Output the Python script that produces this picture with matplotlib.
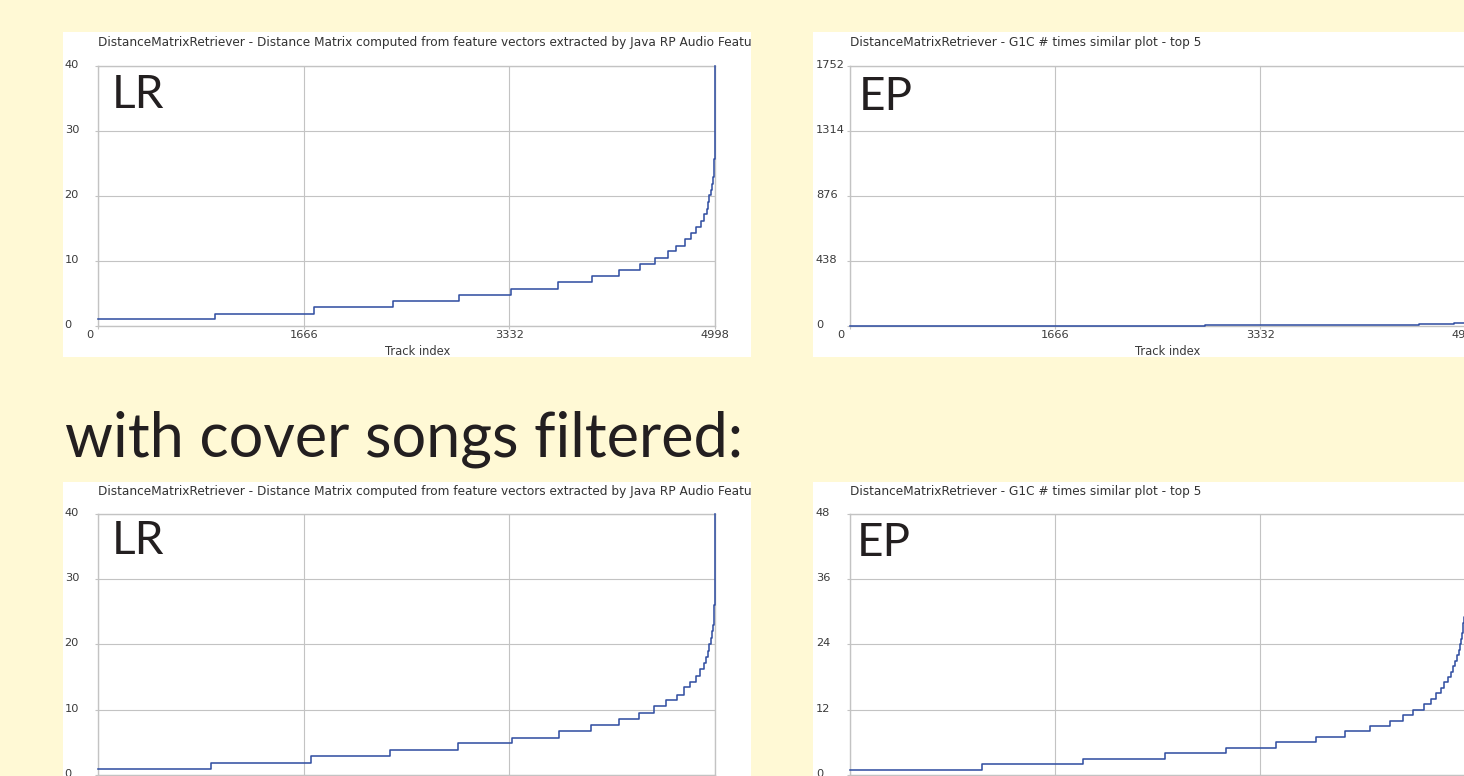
import matplotlib
matplotlib.use("Agg")
import matplotlib.pyplot as plt
from matplotlib.patches import Rectangle
from matplotlib.transforms import ScaledTranslation, Bbox, TransformedBbox

# ---------------------------------------------------------------- data
track_ticks = [0, 1666, 3332, 4998]
track_max = 4998

# LR, all tracks: start index of each level and its value
lr_all_start = [0, 942, 1746, 2387, 2923, 3347, 3727, 4005, 4221, 4389, 4511,
                4614, 4684, 4752, 4803, 4844, 4884, 4911, 4931, 4941, 4952,
                4963, 4974, 4982, 4993, 4996, 4998]
lr_all_value = [0.97, 1.86, 2.86, 3.84, 4.8, 5.68, 6.66, 7.63, 8.5, 9.5, 10.45,
                11.46, 12.33, 13.3, 14.33, 15.25, 16.17, 17.14, 18.0, 19.0,
                20.05, 20.9, 21.85, 22.87, 25.7, 32.7, 40.0]

# EP, all tracks
ep_all_start = [0, 2883, 4617, 4906, 4992, 4998]
ep_all_value = [1, 7, 14, 22, 60, 1752]

# LR, cover songs filtered
lr_flt_start = [0, 912, 1723, 2360, 2914, 3349, 3732, 3996, 4217, 4384, 4503,
                4601, 4688, 4746, 4797, 4847, 4876, 4905, 4928, 4940, 4951,
                4962, 4973, 4982, 4993, 4996, 4998]
lr_flt_value = [0.97, 1.89, 2.86, 3.88, 4.85, 5.71, 6.73, 7.65, 8.57, 9.54,
                10.5, 11.5, 12.3, 13.4, 14.3, 15.2, 16.3, 17.2, 18.1, 19.0,
                20.0, 21.0, 22.0, 23.0, 26.0, 33.0, 40.0]

# EP, cover songs filtered
ep_flt_start = [0, 1077, 1896, 2557, 3058, 3461, 3786, 4020, 4219, 4388, 4490,
                4573, 4661, 4716, 4756, 4797, 4825, 4854, 4881, 4898, 4912,
                4928, 4942, 4952, 4960, 4968, 4975, 4980, 4984, 4990, 4992,
                4994, 4996, 4998]
ep_flt_value = [1, 2, 3, 4, 5, 6, 7, 8, 9, 10, 11, 12, 13, 14, 15, 16, 17, 18,
                19, 20, 21, 22, 23, 24, 25, 26, 27, 28, 29, 31, 34, 38, 43, 48]

lr_yticks = [0, 10, 20, 30, 40]
ep_all_yticks = [0, 438, 876, 1314, 1752]
ep_flt_yticks = [0, 12, 24, 36, 48]

title_lr = ("DistanceMatrixRetriever - Distance Matrix computed from feature "
            "vectors extracted by Java RP Audio Feature Extractor")
title_ep = "DistanceMatrixRetriever - G1C # times similar plot - top 5"
heading = "with cover songs filtered:"

# ---------------------------------------------------------------- style
W, H = 1464, 776
BG = "#FFF9D5"
GRID = "#c3c3c3"
LINE = "#3451a3"
INK = "#231F20"
JAVA_FONT = ["DejaVu Sans"]
SLIDE_FONT = ["Lato", "DejaVu Sans"]

fig = plt.figure(figsize=(W / 100, H / 100), dpi=100)
fig.patch.set_facecolor(BG)


def fx(x):
    return x / W


def fy(y):
    return 1 - y / H


def rect(x0, y0, x1, y1):
    return [x0 / W, 1 - y1 / H, (x1 - x0) / W, (y1 - y0) / H]


def panel(box, ax_box, title, starts, values, ymax, yticks, letter,
          letter_xy, title_y, show_xaxis):
    x0, y0, x1, y1 = box
    fig.add_artist(Rectangle((fx(x0), fy(y1)), fx(x1) - fx(x0), fy(y0) - fy(y1),
                             transform=fig.transFigure, facecolor="white",
                             edgecolor="none", zorder=0))
    clip = TransformedBbox(Bbox([[fx(x0), fy(y1)], [fx(x1), fy(y0)]]),
                           fig.transFigure)

    ax = fig.add_axes(rect(*ax_box))
    ax.set_facecolor("white")
    xs = list(starts) + [track_max]
    ys = list(values) + [values[-1]]
    ax.step(xs, ys, where="post", color=LINE, lw=1.15, zorder=4,
            clip_on=False)
    ax.set_xlim(0, track_max)
    ax.set_ylim(0, ymax)

    ax.set_xticks(track_ticks)
    ax.set_xticklabels([str(t) for t in track_ticks])
    ax.set_yticks(yticks)
    ax.set_yticklabels([str(t) for t in yticks])
    ax.grid(True, color=GRID, lw=0.8, zorder=1)
    ax.set_axisbelow(True)
    for s in ax.spines.values():
        s.set_color(GRID)
        s.set_linewidth(1.0)
    ax.tick_params(axis="both", labelsize=8.2, labelcolor="#3a3a3a",
                   color=GRID, length=2)
    ax.tick_params(axis="y", pad=22.3)
    ax.tick_params(axis="x", pad=1.0, labelbottom=show_xaxis)
    for lab in ax.get_yticklabels():
        lab.set_fontfamily(JAVA_FONT)
        lab.set_horizontalalignment("left")
        lab.set_transform(lab.get_transform() +
                          ScaledTranslation(0, 0.02, fig.dpi_scale_trans))
    if show_xaxis:
        xl = ax.get_xticklabels()
        for lab in xl:
            lab.set_fontfamily(JAVA_FONT)
        xl[0].set_transform(xl[0].get_transform() +
                            ScaledTranslation(-0.09, 0, fig.dpi_scale_trans))
        ax.set_xlabel("Track index", fontsize=8.3, color="#3a3a3a",
                      family=JAVA_FONT)
        ax.xaxis.set_label_coords(0.517, -0.097)
        ax.xaxis.label.set_verticalalignment("center")

    t = fig.text(fx(ax_box[0]), fy(title_y), title, fontsize=8.75,
                 color="#333333", family=JAVA_FONT, ha="left", va="center")
    t.set_clip_box(clip)
    t.set_clip_on(True)

    fig.text(fx(letter_xy[0]), fy(letter_xy[1]), letter, fontsize=33,
             color=INK, family=SLIDE_FONT, ha="left", va="baseline")
    return ax


panel((63.3, 32.3, 751, 357), (98.4, 65.5, 715, 325.8), title_lr,
      lr_all_start, lr_all_value, 40, lr_yticks, "LR", (111.5, 108.5), 42.5,
      True)
panel((813.3, 32.3, 1502, 357), (849.6, 65.5, 1465.5, 325.8), title_ep,
      ep_all_start, ep_all_value, 1752, ep_all_yticks, "EP", (858.5, 110),
      42.5, True)
panel((63.3, 481.7, 751, 820), (98.4, 513.7, 715, 775), title_lr,
      lr_flt_start, lr_flt_value, 40, lr_yticks, "LR", (111.5, 554.5), 491.5,
      False)
panel((813.3, 481.7, 1502, 820), (849.6, 513.7, 1465.5, 775), title_ep,
      ep_flt_start, ep_flt_value, 48, ep_flt_yticks, "EP", (856.5, 556.5),
      491.5, False)

fig.text(fx(65), fy(456.5), heading, fontsize=44, color=INK,
         family=SLIDE_FONT, ha="left", va="baseline")

fig.savefig("out.png", dpi=100, facecolor=BG)
